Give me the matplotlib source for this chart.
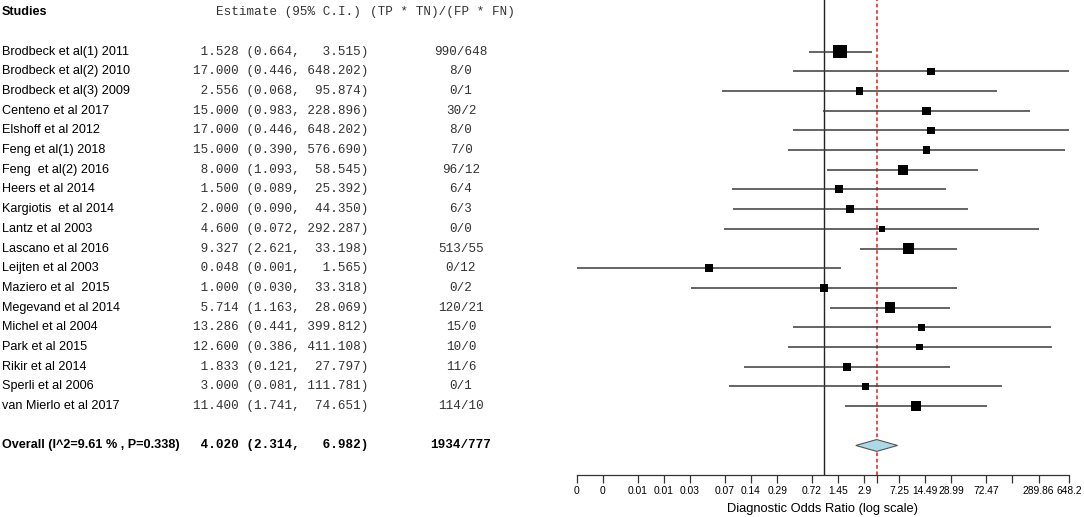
import numpy as np
import matplotlib
matplotlib.use('Agg')
import matplotlib.pyplot as plt
from matplotlib import transforms
from matplotlib.patches import Polygon

plt.rcParams['font.family'] = ['Liberation Sans', 'DejaVu Sans']

# datos de los estudios
studies = ['Brodbeck et al(1) 2011', 'Brodbeck et al(2) 2010', 'Brodbeck et al(3) 2009',
           'Centeno et al 2017', 'Elshoff et al 2012', 'Feng et al(1) 2018',
           'Feng  et al(2) 2016', 'Heers et al 2014', 'Kargiotis  et al 2014',
           'Lantz et al 2003', 'Lascano et al 2016', 'Leijten et al 2003',
           'Maziero et al  2015', 'Megevand et al 2014', 'Michel et al 2004',
           'Park et al 2015', 'Rikir et al 2014', 'Sperli et al 2006',
           'van Mierlo et al 2017']
est = [1.528, 17.000, 2.556, 15.000, 17.000, 15.000, 8.000, 1.500, 2.000, 4.600,
       9.327, 0.048, 1.000, 5.714, 13.286, 12.600, 1.833, 3.000, 11.400]
lo = [0.664, 0.446, 0.068, 0.983, 0.446, 0.390, 1.093, 0.089, 0.090, 0.072,
      2.621, 0.00145, 0.030, 1.163, 0.441, 0.386, 0.121, 0.081, 1.741]
hi = [3.515, 648.202, 95.874, 228.896, 648.202, 576.690, 58.545, 25.392, 44.350, 292.287,
      33.198, 1.565, 33.318, 28.069, 399.812, 411.108, 27.797, 111.781, 74.651]
ratio = ['990/648', '8/0', '0/1', '30/2', '8/0', '7/0', '96/12', '6/4', '6/3', '0/0',
         '513/55', '0/12', '0/2', '120/21', '15/0', '10/0', '11/6', '0/1', '114/10']
# peso relativo (%) estimado del tamaño de los cuadrados
weight = [13.0, 3.9, 3.9, 4.8, 3.9, 3.6, 6.9, 4.3, 4.8, 2.6,
          10.3, 3.9, 3.6, 8.1, 3.2, 3.2, 4.3, 3.6, 8.1]

# resumen global
overall_label = 'Overall (I^2=9.61 % , P=0.338)'
overall_est, overall_lo, overall_hi = 4.020, 2.314, 6.982
overall_ratio = '1934/777'

tick_vals = [0.00145, 0.0029, 0.00725, 0.0145, 0.029, 0.0725, 0.145, 0.29, 0.725,
             1.45, 2.9, 4.02, 7.25, 14.49, 28.99, 72.47, 144.9, 289.86, 648.2]
tick_labels = ['0', '0', '0.01', '0.01', '0.03', '0.07', '0.14', '0.29', '0.72',
               '1.45', '2.9', '', '7.25', '14.49', '28.99', '72.47', '', '289.86', '648.2']

W, H = 1084, 517
fig = plt.figure(figsize=(W / 100, H / 100), dpi=100)
ax = fig.add_axes([576.7 / W, (H - 475) / H, (1069 - 576.7) / W, 475 / H])
ax.set_xscale('log')
ax.set_xlim(0.00145, 648.2)
ax.set_ylim(21.5, -2.62)

n = len(studies)
rows = np.arange(n)
overall_row = n + 1

# lineas de referencia
ax.axvline(1, color='#222222', lw=1.0, zorder=1)
ax.axvline(overall_est, color='#ee3b3b', lw=1.3, ls=(0, (2, 1.5)), zorder=1)

# intervalos y cuadrados
ax.hlines(rows, lo, hi, color='#3a3a3a', lw=1.1, zorder=2)
side_px = 3.52 * np.sqrt(weight) + 0.6
ax.scatter(est, rows, marker='s', s=(side_px * 0.72) ** 2, color='black',
           linewidths=0, zorder=3)

# diamante global
h = 0.3
diamond = Polygon([[overall_lo, overall_row], [overall_est, overall_row - h],
                   [overall_hi, overall_row], [overall_est, overall_row + h]],
                  closed=True, facecolor='#add8e6', edgecolor='#555555', lw=0.8, zorder=3)
ax.add_patch(diamond)

# ejes
for s in ['top', 'right', 'left']:
    ax.spines[s].set_visible(False)
ax.spines['bottom'].set_color('#333333')
ax.spines['bottom'].set_linewidth(0.9)
ax.set_yticks([])
ax.set_xticks(tick_vals)
ax.set_xticklabels(tick_labels)
ax.minorticks_off()
ax.tick_params(axis='x', direction='out', length=6, width=0.9, color='#333333',
               labelsize=7.4, pad=2)
ax.set_xlabel('Diagnostic Odds Ratio (log scale)', fontsize=9.3, labelpad=5)

# columnas de texto
tr = transforms.blended_transform_factory(fig.transFigure, ax.transData)
mono = 'Liberation Mono'
fs = 9.1
ax.text(2 / W, -2, 'Studies', transform=tr, fontsize=fs, fontweight='bold',
        ha='left', va='center', clip_on=False)
ax.text(216 / W, -2, 'Estimate (95% C.I.)', transform=tr, fontsize=fs, family=mono,
        color='#333333', ha='left', va='center', clip_on=False)
ax.text(370 / W, -2, '(TP * TN)/(FP * FN)', transform=tr, fontsize=fs, family=mono,
        color='#333333', ha='left', va='center', clip_on=False)

for i in range(n):
    ax.text(2 / W, i, studies[i], transform=tr, fontsize=fs, ha='left', va='center',
            clip_on=False)
    ax.text(193 / W, i, '%6.3f (%.3f, %7.3f)' % (est[i], lo[i], hi[i]), transform=tr,
            fontsize=fs, family=mono, color='#333333', ha='left', va='center', clip_on=False)
    ax.text(461 / W, i, ratio[i], transform=tr, fontsize=fs, family=mono, color='#333333',
            ha='center', va='center', clip_on=False)

ax.text(2 / W, overall_row, overall_label, transform=tr, fontsize=fs, fontweight='bold',
        ha='left', va='center', clip_on=False)
ax.text(193 / W, overall_row, '%6.3f (%.3f, %7.3f)' % (overall_est, overall_lo, overall_hi),
        transform=tr, fontsize=fs, family=mono, fontweight='bold', ha='left', va='center',
        clip_on=False)
ax.text(461 / W, overall_row, overall_ratio, transform=tr, fontsize=fs, family=mono,
        fontweight='bold', ha='center', va='center', clip_on=False)

fig.savefig('out.png', dpi=100)
